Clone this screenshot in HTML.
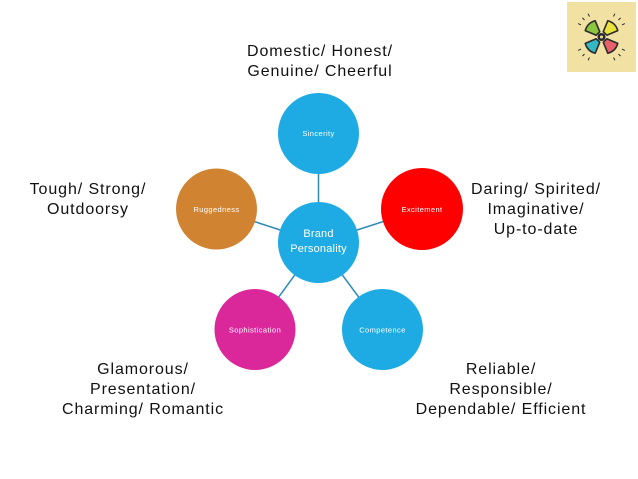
<!DOCTYPE html>
<html>
<head>
<meta charset="utf-8">
<style>
html,body{margin:0;padding:0;background:#fff;}
body{width:638px;height:479px;overflow:hidden;position:relative;font-family:"Liberation Sans","DejaVu Sans",sans-serif;}
svg{position:absolute;left:0;top:0;}
</style>
</head>
<body>
<svg width="638" height="479" viewBox="0 0 638 479" xmlns="http://www.w3.org/2000/svg">
  <!-- connectors -->
  <g stroke="#2f8ab8" stroke-width="1.5">
    <line x1="318.5" y1="242.5" x2="318.5" y2="133.5"/>
    <line x1="318.5" y1="242.5" x2="422" y2="209"/>
    <line x1="318.5" y1="242.5" x2="216" y2="209"/>
    <line x1="318.5" y1="242.5" x2="255" y2="329.5"/>
    <line x1="318.5" y1="242.5" x2="382.5" y2="329.5"/>
  </g>
  <!-- circles -->
  <circle cx="318.5" cy="133.5" r="40.5" fill="#1eaae2"/>
  <circle cx="422" cy="209" r="41" fill="#fe0000"/>
  <circle cx="216.5" cy="209" r="40.5" fill="#d08432"/>
  <circle cx="318.5" cy="242.5" r="40.5" fill="#1eaae2"/>
  <circle cx="255" cy="329.5" r="40.5" fill="#da289b"/>
  <circle cx="382.5" cy="329.5" r="40.5" fill="#1eaae2"/>
  <!-- circle labels -->
  <g fill="#fff" font-family="Liberation Sans, DejaVu Sans, sans-serif" font-size="7.5" letter-spacing="0.4" text-anchor="middle">
    <text x="318.5" y="136">Sincerity</text>
    <text x="422" y="212">Excitement</text>
    <text x="216.5" y="212">Ruggedness</text>
    <text x="255" y="332.5">Sophistication</text>
    <text x="382.5" y="332.5">Competence</text>
  </g>
  <g fill="#fff" font-family="Liberation Sans, DejaVu Sans, sans-serif" font-size="11" letter-spacing="0.2" text-anchor="middle">
    <text x="318.5" y="237">Brand</text>
    <text x="318.5" y="252">Personality</text>
  </g>
  <!-- descriptor text -->
  <g fill="#111" font-family="Liberation Sans, DejaVu Sans, sans-serif" font-size="16" letter-spacing="0.9" text-anchor="middle">
    <text x="320" y="56">Domestic/ Honest/</text>
    <text x="320" y="76">Genuine/ Cheerful</text>
    <text x="88" y="194">Tough/ Strong/</text>
    <text x="88" y="214">Outdoorsy</text>
    <text x="536" y="194">Daring/ Spirited/</text>
    <text x="536" y="214">Imaginative/</text>
    <text x="536" y="234">Up-to-date</text>
    <text x="143" y="374">Glamorous/</text>
    <text x="143" y="394">Presentation/</text>
    <text x="143" y="414">Charming/ Romantic</text>
    <text x="501" y="374">Reliable/</text>
    <text x="501" y="394">Responsible/</text>
    <text x="501" y="414">Dependable/ Efficient</text>
  </g>
  <!-- logo -->
  <rect x="567" y="2" width="69" height="70" fill="#f1e2a4"/>
  <g transform="translate(601.5,37)" stroke="#2b2b2b" stroke-width="1.6" stroke-linejoin="round">
    <g transform="rotate(-45)">
      <path d="M-2.5,-5 L-7,-16 Q0,-20 7,-16 L2.5,-5 Z" fill="#8cc63f"/>
      <path d="M-6,-23 L-7,-26 M0,-24 L0,-27 M6,-23 L7,-26" stroke-width="1"/>
    </g>
    <g transform="rotate(45)">
      <path d="M-2.5,-5 L-7,-16 Q0,-20 7,-16 L2.5,-5 Z" fill="#e8e23a"/>
      <path d="M-6,-23 L-7,-26 M0,-24 L0,-27 M6,-23 L7,-26" stroke-width="1"/>
    </g>
    <g transform="rotate(-135)">
      <path d="M-2.5,-5 L-7,-16 Q0,-20 7,-16 L2.5,-5 Z" fill="#33b8c4"/>
      <path d="M-6,-23 L-7,-26 M0,-24 L0,-27 M6,-23 L7,-26" stroke-width="1"/>
    </g>
    <g transform="rotate(135)">
      <path d="M-2.5,-5 L-7,-16 Q0,-20 7,-16 L2.5,-5 Z" fill="#e8606a"/>
      <path d="M-6,-23 L-7,-26 M0,-24 L0,-27 M6,-23 L7,-26" stroke-width="1"/>
    </g>
    <circle cx="0" cy="0" r="4" fill="#2b2b2b" stroke="none"/>
    <circle cx="0" cy="0" r="1.5" fill="#f1e2a4" stroke="none"/>
  </g>
</svg>
</body>
</html>
